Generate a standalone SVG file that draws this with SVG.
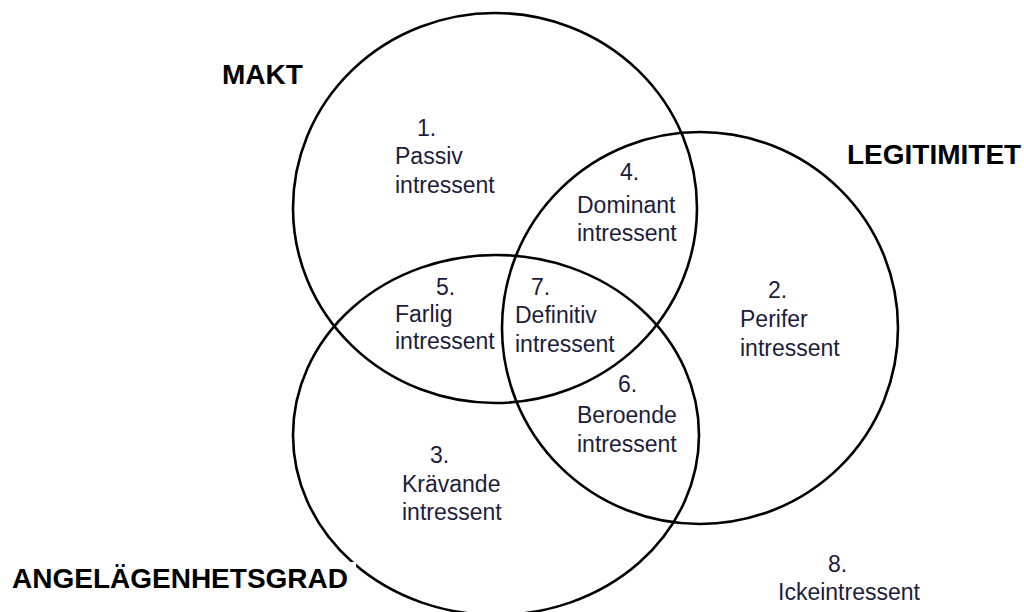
<svg xmlns="http://www.w3.org/2000/svg" width="1024" height="612" viewBox="0 0 1024 612">
  <style>
    .set { fill: none; stroke: #000; stroke-width: 2.6; }
    .title { font-family: "Liberation Sans", Arial, sans-serif; font-weight: bold; font-size: 28px; fill: #000; }
    .lbl { font-family: "Liberation Sans", Arial, sans-serif; font-size: 23px; fill: #1c1c3c; }
  </style>
  <rect width="1024" height="612" fill="#fff"/>

  <!-- the three stakeholder attribute sets -->
  <g id="set-makt">
    <ellipse class="set" cx="495" cy="208" rx="202" ry="195"/>
    <text class="title" x="222" y="84">MAKT</text>
  </g>
  <g id="set-legitimitet">
    <ellipse class="set" cx="700" cy="328" rx="198" ry="196"/>
    <text class="title" x="847" y="164">LEGITIMITET</text>
  </g>
  <g id="set-angelagenhetsgrad">
    <ellipse class="set" cx="496" cy="435" rx="203" ry="180"/>
    <!-- label box sits on top of the circle outline -->
    <rect x="6" y="562" width="350" height="40" fill="#fff"/>
    <text class="title" x="12" y="588">ANGELÄGENHETSGRAD</text>
  </g>

  <!-- region labels -->
  <g id="region-1">
    <text class="lbl" x="417" y="136">1.</text>
    <text class="lbl" x="395" y="164">Passiv</text>
    <text class="lbl" x="395" y="193">intressent</text>
  </g>
  <g id="region-2">
    <text class="lbl" x="768" y="298">2.</text>
    <text class="lbl" x="740" y="327">Perifer</text>
    <text class="lbl" x="740" y="356">intressent</text>
  </g>
  <g id="region-3">
    <text class="lbl" x="430" y="463">3.</text>
    <text class="lbl" x="402" y="492">Krävande</text>
    <text class="lbl" x="402" y="520">intressent</text>
  </g>
  <g id="region-4">
    <text class="lbl" x="620" y="180">4.</text>
    <text class="lbl" x="577" y="213">Dominant</text>
    <text class="lbl" x="577" y="241">intressent</text>
  </g>
  <g id="region-5">
    <text class="lbl" x="436" y="295">5.</text>
    <text class="lbl" x="395" y="322">Farlig</text>
    <text class="lbl" x="395" y="349">intressent</text>
  </g>
  <g id="region-6">
    <text class="lbl" x="618" y="392">6.</text>
    <text class="lbl" x="577" y="423">Beroende</text>
    <text class="lbl" x="577" y="452">intressent</text>
  </g>
  <g id="region-7">
    <text class="lbl" x="531" y="295">7.</text>
    <text class="lbl" x="515" y="323">Definitiv</text>
    <text class="lbl" x="515" y="352">intressent</text>
  </g>
  <g id="region-8">
    <text class="lbl" x="828" y="572">8.</text>
    <text class="lbl" x="778" y="600">Ickeintressent</text>
  </g>

  <!-- no connectors in this diagram -->
  <g id="connectors"/>
</svg>
